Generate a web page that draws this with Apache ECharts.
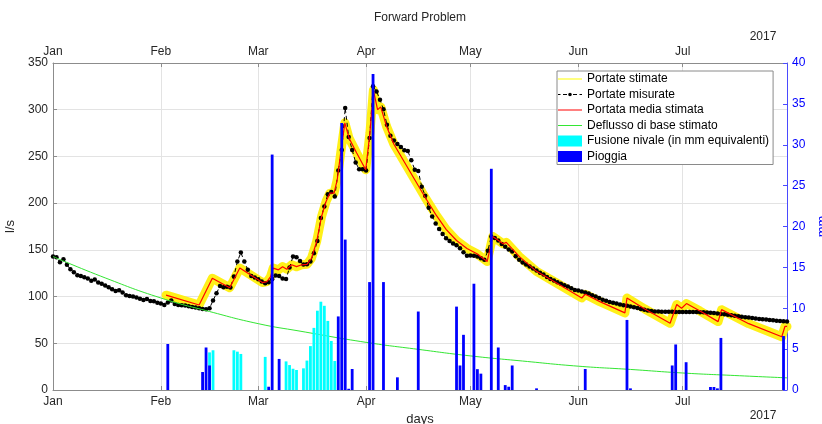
<!DOCTYPE html>
<html><head><meta charset="utf-8">
<script src="https://cdn.jsdelivr.net/npm/echarts@6/dist/echarts.min.js"></script>
<style>html,body{margin:0;padding:0;background:#fff}#c{width:822px;height:424px}</style>
</head><body><div id="c"></div>
<script>
// ---- axes / ticks ----
const monthDays = [0, 31, 59, 90, 120, 151, 181];
const monthNames = ['Jan', 'Feb', 'Mar', 'Apr', 'May', 'Jun', 'Jul'];
const dayMax = 211;

// ---- measured flow (l/s), one value per day from 1 Jan ----
const measured = [
142.8,142,136.8,140,134,129.3,126,122.9,122,120.7,
119.3,117,118.2,115,113.6,111.8,110,107.9,106,106.8,
104.3,101.4,100.7,100,98.9,97.8,96.4,97.5,95.3,95,
93.5,92.7,90.9,93.6,95.7,92.1,91,90.7,90.4,89.6,
88.9,88.2,87.5,86.8,86.4,87.5,95.7,103.6,111.4,110,
110.4,109.6,121.4,137.5,147.1,137.5,128.6,122,120.5,118.6,
116,114.3,115.4,118.6,122.5,122.1,119.3,118.9,131,142.9,
142.1,138,134.3,134.5,137.5,146.4,159.6,184,196.4,209.6,
211.8,207,235,257,301.8,270.7,257,243.6,236.4,236.4,
235,269.6,325,319.6,310.7,300.4,284,272,267,263.4,
260,256.7,255.8,246,235.7,234.5,217.5,208,195,185.7,
178.2,172.3,167,162.5,159.5,156.7,154.8,151.8,147.5,143.7,
144,143.6,142.9,141,139.3,149,164.3,162.8,160,156.3,
153.2,150.4,148.2,143.2,139.3,136.6,134.3,132.1,130,127.9,
125.5,123.7,121,118.9,117.1,115.4,113.6,112.1,110.7,108.9,
107.1,106.4,105.4,104.3,103.3,101.4,100,98.4,96.5,95.5,
94.3,93.3,92.5,91.6,90.8,90.3,89.5,88.5,87.7,86.7,
85.9,85.2,84.5,84,83.9,83.8,83.8,83.7,83.7,83.6,
83.6,83.6,83.5,83.5,83.4,83.4,83.3,83.2,83,82.7,
82.3,81.9,81.4,81,80.5,80,79.4,78.9,78.4,78,
77.5,77,76.6,76.1,75.7,75.4,75,74.6,74.2,73.9,
73.6,73.4
];

// ---- mean estimated flow (l/s): vertices (day, value) ----
const meanDays = [32.5,42,45.8,50.8,53.7,60.2,61.5,62.5,63.3,64.8,66,67.2,68.6,70,71.5,73,74.3,75.8,77.2,78.5,79.6,80.8,81.7,82.7,83.9,85.1,87.3,89.9,91.1,92.1,93.3,94.2,95.9,98,101,104,107,110,113,116,119,122,124.8,126.4,129.4,130.3,134,139,145,152,153,157.2,164.4,165,170,177.4,179.3,180.7,182.1,186,191.2,192.2,200,209.5,210.4,211];
const meanVals = [101.5,91,119.6,109.5,130.5,115,116,121,130.5,128.6,132,129.3,134,132,134,134.5,141,159,185.7,201.8,210.7,210.7,225,253.6,286,269.6,253.6,235.7,275,321,300,303,282,263,244,225,206,188,172,160,151.5,145.5,137.5,164.3,156.5,158,143,127,114,98.5,102.5,94.6,82.5,98.5,87,71.4,91.5,87.5,92.5,84.5,73.2,86,71,57,68,68];

// ---- base flow (l/s) ----
const baseDays = [0,15,31,45,59,71,90,105,120,135,151,166,181,196,211];
const baseVals = [142.8,120,98.5,84,71,63,51,43.5,36.5,31,25.5,22,18.2,15.5,13];

// ---- snow melt (mm eq.) ----
const snowDays = [45,46,52,53,54,61,67,68,69,70,72,73,74,75,76,77,78,79,80,81];
const snowVals = [4.6,4.86,4.86,4.69,4.41,4.05,3.5,3.05,2.6,2.45,2.65,3.6,5.37,7.6,9.7,10.8,10.3,8.45,6.0,3.55];

// ---- rain (mm) ----
const rainDays = [33,43,44,45,62,63,65,82,83,84,85,86,91,92,95,99,105,116,117,118,121,122,123,126,128,130,131,132,139,153,165,166,178,179,182,189,190,191,192,210];
const rainVals = [5.63,2.2,5.2,3.0,0.4,28.8,3.8,9.0,32.65,18.4,0.15,2.57,13.2,38.65,13.2,1.55,9.6,10.2,3.0,6.75,13.0,2.55,2.0,27.06,5.2,0.6,0.4,3.0,0.2,2.57,8.57,0.2,3.0,5.57,3.4,0.37,0.37,0.2,6.37,6.6];

const zip = (a, b) => a.map((v, i) => [v, b[i]]);
const font = 'Liberation Sans, Arial, Helvetica, sans-serif';
const monthFmt = v => { const i = monthDays.indexOf(v); return i >= 0 ? monthNames[i] : ''; };

const chart = echarts.init(document.getElementById('c'), null, {renderer: 'canvas'});
const lineIcon = 'path://M0,0L24,0L24,1L0,1Z';
const dashIcon = 'path://M0,4.5h2.5v1h-2.5zM5,4.5h4v1h-4zM15,4.5h4v1h-4zM21.5,4.5h2.5v1h-2.5zM13.8,5A1.8,1.8 0 1 1 10.2,5A1.8,1.8 0 1 1 13.8,5Z';

chart.setOption({
  animation: false,
  backgroundColor: '#fff',
  grid: {left: 53, right: 35, top: 63, bottom: 34, containLabel: false, outerBoundsMode: 'none'},
  graphic: [
    {type: 'text', x: 420, y: 18, style: {text: 'Forward Problem', font: '12px ' + font, fill: '#262626', align: 'center', verticalAlign: 'middle'}},
    {type: 'text', x: 763, y: 37, style: {text: '2017', font: '12px ' + font, fill: '#262626', align: 'center', verticalAlign: 'middle'}},
    {type: 'text', x: 763, y: 416, style: {text: '2017', font: '12px ' + font, fill: '#262626', align: 'center', verticalAlign: 'middle'}}
  ],
  legend: {
    left: 557, top: 71, orient: 'vertical',
    backgroundColor: '#fff', borderColor: '#8a8a8a', borderWidth: 1, borderRadius: 0,
    padding: [1, 4, 1, 1], itemGap: 1.5, itemWidth: 24, itemHeight: 11,
    textStyle: {fontFamily: font, fontSize: 12, color: '#000', lineHeight: 14},
    data: [
      {name: 'Portate stimate', icon: lineIcon},
      {name: 'Portate misurate', icon: dashIcon},
      {name: 'Portata media stimata', icon: lineIcon},
      {name: 'Deflusso di base stimato', icon: lineIcon},
      {name: 'Fusione nivale (in mm equivalenti)', icon: 'rect'},
      {name: 'Pioggia', icon: 'rect'}
    ]
  },
  xAxis: [
    {
      type: 'value', position: 'bottom', min: 0, max: dayMax,
      name: 'days', nameLocation: 'middle', nameGap: 20,
      nameTextStyle: {fontFamily: font, fontSize: 13, color: '#262626'},
      axisLine: {show: true, onZero: false, lineStyle: {color: '#8c8c8c', width: 1}},
      axisTick: {show: true, inside: true, length: 4, customValues: monthDays, lineStyle: {color: '#8c8c8c'}},
      axisLabel: {customValues: monthDays, formatter: monthFmt, margin: 6, fontFamily: font, fontSize: 12, color: '#262626'},
      splitLine: {show: true, customValues: monthDays, lineStyle: {color: '#e3e3e3', width: 1}}
    },
    {
      type: 'value', position: 'top', min: 0, max: dayMax,
      axisLine: {show: true, onZero: false, lineStyle: {color: '#8c8c8c', width: 1}},
      axisTick: {show: true, inside: true, length: 4, customValues: monthDays, lineStyle: {color: '#8c8c8c'}},
      axisLabel: {customValues: monthDays, formatter: monthFmt, margin: 5, fontFamily: font, fontSize: 12, color: '#262626'},
      splitLine: {show: false}
    }
  ],
  yAxis: [
    {
      type: 'value', min: 0, max: 350, interval: 50, position: 'left',
      name: 'l/s', nameLocation: 'middle', nameGap: 33,
      nameTextStyle: {fontFamily: font, fontSize: 13, color: '#262626'},
      axisLine: {show: true, onZero: false, lineStyle: {color: '#8c8c8c', width: 1}},
      axisTick: {show: true, inside: true, length: 4, lineStyle: {color: '#8c8c8c'}},
      axisLabel: {margin: 5, fontFamily: font, fontSize: 12, color: '#262626'},
      splitLine: {show: true, lineStyle: {color: '#e3e3e3', width: 1}}
    },
    {
      type: 'value', min: 0, max: 40, interval: 5, position: 'right',
      name: 'mm', nameLocation: 'middle', nameGap: 25,
      nameTextStyle: {fontFamily: font, fontSize: 13, color: '#0000ff'},
      axisLine: {show: true, onZero: false, lineStyle: {color: '#4a4aff', width: 1}},
      axisTick: {show: true, inside: true, length: 4, lineStyle: {color: '#4a4aff'}},
      axisLabel: {margin: 5, fontFamily: font, fontSize: 12, color: '#0000ff'},
      splitLine: {show: false}
    }
  ],
  series: [
    {
      name: 'Portate stimate', type: 'line', xAxisIndex: 0, yAxisIndex: 0,
      data: zip(meanDays, meanVals), symbol: 'none', z: 2,
      itemStyle: {color: '#ffff00'},
      lineStyle: {color: '#ffee00', width: 9, join: 'round', cap: 'round', opacity: 0.9}
    },
    {
      name: 'Portate misurate', type: 'line', xAxisIndex: 0, yAxisIndex: 0,
      data: measured.map((v, i) => [i, v]), symbol: 'circle', symbolSize: 4.5, showSymbol: true, z: 3,
      itemStyle: {color: '#000'},
      lineStyle: {color: '#000', width: 1, type: [4, 3]}
    },
    {
      name: 'Portata media stimata', type: 'line', xAxisIndex: 0, yAxisIndex: 0,
      data: zip(meanDays, meanVals), symbol: 'none', z: 4,
      itemStyle: {color: '#ff0000'},
      lineStyle: {color: '#ff0000', width: 1.2}
    },
    {
      name: 'Deflusso di base stimato', type: 'line', xAxisIndex: 0, yAxisIndex: 0,
      data: zip(baseDays, baseVals), symbol: 'none', smooth: true, z: 4,
      itemStyle: {color: '#33e633'},
      lineStyle: {color: '#33e633', width: 1}
    },
    {
      name: 'Fusione nivale (in mm equivalenti)', type: 'bar', xAxisIndex: 0, yAxisIndex: 1,
      data: zip(snowDays, snowVals), barWidth: 2.8, barGap: '-100%', z: 5,
      itemStyle: {color: '#00ffff'}
    },
    {
      name: 'Pioggia', type: 'bar', xAxisIndex: 0, yAxisIndex: 1,
      data: zip(rainDays, rainVals), barWidth: 2.8, barGap: '-100%', z: 6,
      itemStyle: {color: '#0000ff'}
    }
  ]
});
</script>
</body></html>
